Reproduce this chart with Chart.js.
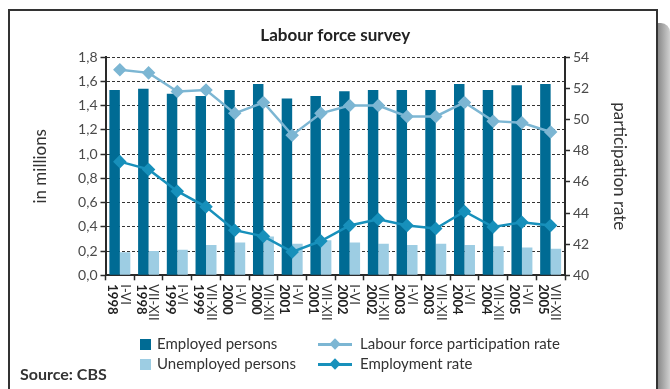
<!DOCTYPE html>
<html>
<head>
<meta charset="utf-8">
<title>Labour force survey</title>
<script src="https://cdn.jsdelivr.net/npm/chart.js@4.4.1/dist/chart.umd.min.js"></script>
<style>
  html, body { margin: 0; padding: 0; background: #fff; }
  body { width: 670px; height: 389px; position: relative; overflow: hidden; font-family: Lato, "Open Sans", sans-serif; }
  #frame { position: absolute; left: 8px; top: 9px; width: 650px; height: 400px; border: 2px solid #333; box-sizing: border-box; }
  #shadow { position: absolute; left: 658px; top: 23px; width: 12px; height: 380px; background: linear-gradient(to right, #8a8a8a, #d0d0d0); border-top-right-radius: 9px; }
  #chart { position: absolute; left: 0; top: 0; }
  .lg { position: absolute; font-size: 15px; color: #333; line-height: 18px; white-space: nowrap; }
  .sq { position: absolute; width: 11px; height: 11px; }
  .ln { position: absolute; width: 34px; height: 3px; }
  .ln i { position: absolute; left: 13px; top: -3px; width: 8px; height: 8px; transform: rotate(45deg); background: inherit; }
  #source { position: absolute; left: 20px; top: 364px; font-size: 16px; font-weight: bold; color: #333; }
</style>
</head>
<body>
<div id="frame"></div>
<div id="shadow"></div>
<canvas id="chart" width="670" height="389"></canvas>
<div id="legend"></div>
<div id="source">Source: CBS</div>
<script>
// Half-year periods and their years
const periods = ['I-VI', 'VII-XII', 'I-VI', 'VII-XII', 'I-VI', 'VII-XII', 'I-VI', 'VII-XII',
                 'I-VI', 'VII-XII', 'I-VI', 'VII-XII', 'I-VI', 'VII-XII', 'I-VI', 'VII-XII'];
const years = ['1998', '1998', '1999', '1999', '2000', '2000', '2001', '2001',
               '2002', '2002', '2003', '2003', '2004', '2004', '2005', '2005'];

// Persons, in millions (left axis)
const employed = [1.53, 1.54, 1.50, 1.48, 1.53, 1.58, 1.46, 1.48,
                  1.52, 1.53, 1.53, 1.53, 1.58, 1.53, 1.57, 1.58];
const unemployed = [0.19, 0.20, 0.21, 0.25, 0.27, 0.32, 0.26, 0.29,
                    0.27, 0.26, 0.25, 0.26, 0.25, 0.24, 0.23, 0.22];

// Rates, in % (right axis)
const participationRate = [53.2, 53.0, 51.8, 51.9, 50.4, 51.1, 49.0, 50.4,
                           50.9, 50.9, 50.2, 50.2, 51.1, 49.9, 49.8, 49.2];
const employmentRate = [47.3, 46.8, 45.4, 44.4, 42.9, 42.5, 41.5, 42.2,
                        43.2, 43.6, 43.2, 43.0, 44.1, 43.1, 43.4, 43.2];

// Axis ranges
const leftTicks = { min: 0, max: 1.8, step: 0.2 };
const rightTicks = { min: 40, max: 54, step: 2 };

const C = {
  employed: '#006b94',
  unemployed: '#9dcde3',
  participation: '#7cb6d3',
  employment: '#1790bb',
  axis: '#2a2a2a',
  grid: '#333',
  tick: '#4a4a4a'
};

// Two-line vertical category labels: period next to the bold year
const verticalLabels = {
  id: 'verticalLabels',
  afterDraw(chart) {
    const xs = chart.scales.x;
    const ctx = chart.ctx;
    ctx.save();
    ctx.textBaseline = 'middle';
    ctx.textAlign = 'left';
    periods.forEach((p, i) => {
      const x = xs.getPixelForValue(i);
      const y = xs.top + 9;
      ctx.save();
      ctx.translate(x + 5, y);
      ctx.rotate(Math.PI / 2);
      ctx.font = '13px Lato';
      ctx.fillStyle = '#333';
      ctx.fillText(p, 0, 0);
      ctx.restore();
      ctx.save();
      ctx.translate(x - 7.5, y);
      ctx.rotate(Math.PI / 2);
      ctx.font = 'bold 13px Lato';
      ctx.fillStyle = '#222';
      ctx.fillText(years[i], 0, 0);
      ctx.restore();
    });
    ctx.restore();
  }
};

const comma = v => Number(v).toFixed(1).replace('.', ',');

function build() {
  Chart.defaults.font.family = 'Lato, "Open Sans", sans-serif';
  const datasets = [
    { type: 'line', label: 'Labour force participation rate', data: participationRate, yAxisID: 'y2',
      borderColor: C.participation, backgroundColor: C.participation, borderWidth: 2.5,
      pointStyle: 'rectRot', pointRadius: 5, pointHoverRadius: 5, tension: 0, order: 0 },
    { type: 'line', label: 'Employment rate', data: employmentRate, yAxisID: 'y2',
      borderColor: C.employment, backgroundColor: C.employment, borderWidth: 2.5,
      pointStyle: 'rectRot', pointRadius: 5, pointHoverRadius: 5, tension: 0, order: 0 },
    { type: 'bar', label: 'Employed persons', data: employed, yAxisID: 'y',
      backgroundColor: C.employed, categoryPercentage: 0.73, barPercentage: 1, order: 1 },
    { type: 'bar', label: 'Unemployed persons', data: unemployed, yAxisID: 'y',
      backgroundColor: C.unemployed, categoryPercentage: 0.73, barPercentage: 1, order: 1 }
  ];

  new Chart(document.getElementById('chart'), {
    data: { labels: periods.map((p, i) => years[i] + ' ' + p), datasets },
    options: {
      responsive: false,
      animation: false,
      devicePixelRatio: 1,
      layout: { padding: { left: 30, right: 40, top: 0, bottom: 53.7 } },
      plugins: {
        legend: { display: false },
        tooltip: { enabled: false },
        title: {
          display: true, text: 'Labour force survey', fullSize: false,
          color: '#222', font: { size: 17, weight: 'bold' },
          padding: { top: 25, bottom: 11.9 }
        }
      },
      scales: {
        x: {
          type: 'category',
          offset: true,
          ticks: { display: false },
          grid: { drawOnChartArea: false, drawTicks: true, tickLength: 5, tickColor: C.axis, tickWidth: 1.5, offset: true },
          border: { color: C.axis, width: 2 },
          afterFit(s) { s.height = 60; }
        },
        y: {
          position: 'left',
          min: leftTicks.min, max: leftTicks.max,
          ticks: { stepSize: leftTicks.step, callback: comma, color: C.tick, font: { size: 14 }, padding: 3 },
          grid: { color: C.grid, lineWidth: 1, tickLength: 5, tickColor: C.axis, tickWidth: 1.5, tickBorderDash: [] },
          border: { color: C.axis, width: 2, dash: [3, 2] },
          title: { display: true, text: 'in millions', color: '#333', font: { size: 17 }, padding: 0 },
          afterFit(s) { s.width = 75.5; }
        },
        y2: {
          position: 'right',
          min: rightTicks.min, max: rightTicks.max,
          ticks: { stepSize: rightTicks.step, color: C.tick, font: { size: 14 }, padding: 3 },
          grid: { drawOnChartArea: false, tickLength: 5, tickColor: C.axis, tickWidth: 1.5 },
          border: { color: C.axis, width: 2 },
          title: { display: true, text: 'participation rate', color: '#333', font: { size: 17 }, padding: 0 },
          afterFit(s) { s.width = 65; }
        }
      }
    },
    plugins: [verticalLabels]
  });

  // Legend laid out in two columns
  const legend = document.getElementById('legend');
  const items = [
    { ds: datasets[2], x: 140, y: 344, kind: 'sq' },
    { ds: datasets[3], x: 140, y: 364, kind: 'sq' },
    { ds: datasets[0], x: 318, y: 344, kind: 'ln' },
    { ds: datasets[1], x: 318, y: 364, kind: 'ln' }
  ];
  items.forEach(it => {
    const mark = document.createElement('div');
    if (it.kind === 'sq') {
      mark.className = 'sq';
      mark.style.left = it.x + 'px';
      mark.style.top = (it.y - 5.5) + 'px';
      mark.style.background = it.ds.backgroundColor;
    } else {
      mark.className = 'ln';
      mark.style.left = it.x + 'px';
      mark.style.top = (it.y - 1.5) + 'px';
      mark.style.background = it.ds.borderColor;
      mark.appendChild(document.createElement('i'));
    }
    legend.appendChild(mark);
    const txt = document.createElement('div');
    txt.className = 'lg';
    txt.textContent = it.ds.label;
    txt.style.left = (it.kind === 'sq' ? it.x + 17 : it.x + 42) + 'px';
    txt.style.top = (it.y - 10) + 'px';
    legend.appendChild(txt);
  });
}

if (document.fonts && document.fonts.load) {
  Promise.all([document.fonts.load('13px Lato'), document.fonts.load('bold 13px Lato')])
    .then(build, build);
} else {
  build();
}
</script>
</body>
</html>
